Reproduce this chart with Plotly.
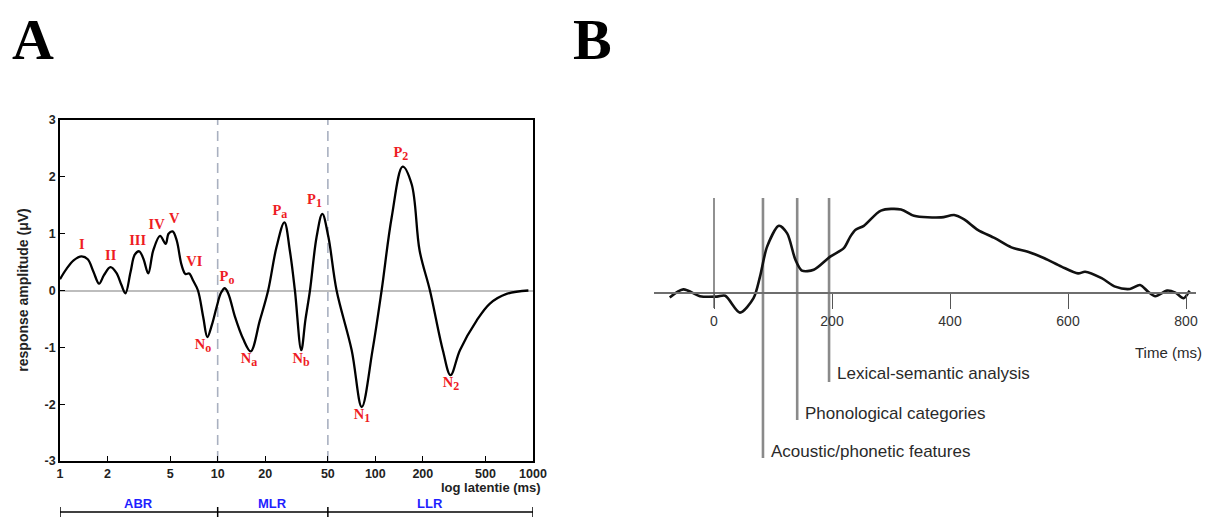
import numpy as np
import plotly.graph_objects as go

W, H = 1212, 517

# ---------------- Panel A data ----------------
lat_ms = [1.0, 1.1, 1.22, 1.37, 1.5, 1.63, 1.77, 1.9, 2.09, 2.28, 2.45, 2.6, 2.8, 2.98,
          3.18, 3.38, 3.63, 3.9, 4.31, 4.68, 4.88, 5.18, 5.5, 5.9, 6.25, 6.6, 7.0, 7.5,
          8.1, 8.6, 9.2, 9.85, 10.5, 11.1, 11.7, 12.9, 14.5, 16.2, 18.5, 20.9, 23.6,
          26.5, 28.7, 30.9, 33.9, 36.0, 38.5, 42.4, 46.1, 50.4, 56.8, 70.8, 82.0, 96.0,
          109.6, 127, 149, 170, 191, 222, 268, 300, 344, 439, 533, 680, 935]
amp_uv = [0.20, 0.38, 0.53, 0.60, 0.55, 0.33, 0.12, 0.27, 0.41, 0.31, 0.10, -0.05, 0.32, 0.63,
          0.69, 0.56, 0.30, 0.70, 0.96, 0.82, 1.00, 1.04, 0.88, 0.45, 0.29, 0.30, 0.17, 0.0,
          -0.47, -0.82, -0.60, -0.29, -0.04, 0.04, -0.06, -0.47, -0.85, -1.07, -0.53, 0.0, 0.76,
          1.20, 0.70, 0.0, -1.05, -0.52, 0.0, 0.94, 1.35, 0.94, 0.0, -1.05, -2.05, -1.05,
          0.0, 1.29, 2.18, 1.87, 0.70, 0.0, -1.05, -1.49, -1.05, -0.53, -0.23, -0.06, 0.0]

peak_mains = ["I", "II", "III", "IV", "V", "VI", "P", "P", "P", "P", "N", "N", "N", "N", "N"]
peak_subs = ["", "", "", "", "", "", "o", "a", "1", "2", "o", "a", "b", "1", "2"]
peak_label_ms = [1.373, 2.097, 3.11, 4.10, 5.31, 7.11,
                 11.46, 24.8, 41.1, 145.3,
                 8.07, 15.8, 33.8, 82.2, 301.5]
peak_label_amp = [0.79, 0.60, 0.865, 1.14, 1.25, 0.50,
                  0.23, 1.39, 1.59, 2.42,
                  -0.965, -1.216, -1.21, -2.19, -1.63]

a_xticks = [1, 2, 5, 10, 20, 50, 100, 200, 500, 1000]
a_yticks = [-3, -2, -1, 0, 1, 2, 3]
region_names = ["ABR", "MLR", "LLR"]
region_bounds = [1, 10, 50, 1000]

# ---------------- Panel B data ----------------
time_ms = [-75, -52, -24, 5, 19, 44, 67, 78, 90, 110, 124, 138, 149, 169, 197, 220, 231,
           240, 254, 283, 317, 339, 385, 407, 424, 447, 476, 504, 532, 560, 589, 617,
           629, 657, 680, 705, 722, 736, 748, 768, 782, 796, 806]
erp_amp = [-0.11, 0.09, -0.08, -0.09, -0.07, -0.49, -0.13, 0.41, 1.16, 1.68, 1.49, 0.83,
           0.56, 0.58, 0.91, 1.12, 1.41, 1.58, 1.68, 2.06, 2.09, 1.93, 1.89, 1.95, 1.84,
           1.58, 1.37, 1.14, 1.03, 0.87, 0.66, 0.49, 0.53, 0.37, 0.16, 0.10, 0.20, 0.03,
           -0.08, 0.06, 0.01, -0.13, 0.06]
b_xticks = [0, 200, 400, 600, 800]
stage_names = ["Acoustic/phonetic features", "Phonological categories", "Lexical-semantic analysis"]
stage_ms = [83, 141, 195]

# ---------------- Figure ----------------
fig = go.Figure()

fig.add_trace(go.Scatter(x=lat_ms, y=amp_uv, mode="lines", xaxis="x", yaxis="y",
                         line=dict(color="black", width=2.3, shape="spline", smoothing=1.0),
                         hoverinfo="skip", showlegend=False))

peak_text = [m + ("<sub><span style='font-size:12px'>" + s + "</span></sub>" if s else "")
             for m, s in zip(peak_mains, peak_subs)]
fig.add_trace(go.Scatter(x=peak_label_ms, y=peak_label_amp, mode="text", text=peak_text,
                         textposition="middle center", xaxis="x", yaxis="y", cliponaxis=False,
                         textfont=dict(family="Liberation Serif", size=14.5, color="#ee1c24",
                                       weight="bold"),
                         hoverinfo="skip", showlegend=False))

fig.add_trace(go.Scatter(x=time_ms, y=erp_amp, mode="lines", xaxis="x2", yaxis="y2",
                         line=dict(color="#111111", width=2.6, shape="spline", smoothing=0.8),
                         hoverinfo="skip", showlegend=False))

shapes = []
for b in region_bounds[1:-1]:
    shapes.append(dict(type="line", xref="x", yref="y", x0=b, x1=b, y0=-3, y1=3,
                       line=dict(color="#a9b0c0", width=1.6, dash="10px,6px"), layer="below"))
shapes.append(dict(type="line", xref="x", yref="paper", x0=region_bounds[0], x1=region_bounds[-1],
                   y0=1 - 512 / H, y1=1 - 512 / H, line=dict(color="black", width=1.5)))
for b in region_bounds:
    shapes.append(dict(type="line", xref="x", yref="paper", x0=b, x1=b,
                       y0=1 - 507 / H, y1=0, line=dict(color="black", width=1.5)))

shapes.append(dict(type="line", xref="x2", yref="y2", x0=0, x1=0, y0=2.375, y1=-0.375,
                   line=dict(color="#555555", width=1.3)))
stage_bottom = [-4.125, -3.175, -2.225]
for s, yb in zip(stage_ms, stage_bottom):
    shapes.append(dict(type="line", xref="x2", yref="y2", x0=s, x1=s, y0=2.375, y1=yb,
                       line=dict(color="#8a8a8a", width=2.6), layer="below"))

annotations = []
for letter, xp in (("A", 33), ("B", 592)):
    annotations.append(dict(text="<b>" + letter + "</b>", x=xp / W, y=1 - 40 / H,
                            xref="paper", yref="paper", xanchor="center", yanchor="middle",
                            showarrow=False,
                            font=dict(family="Liberation Serif", size=58, color="black")))
annotations.append(dict(text="<b>response amplitude (\u03bcV)</b>", x=-0.08, y=0.5,
                        xref="x domain", yref="y domain", textangle=-90, showarrow=False,
                        xanchor="center", yanchor="middle",
                        font=dict(family="Liberation Sans", size=14, color="#222222")))
annotations.append(dict(text="<b>log latentie (ms)</b>", x=1.022, y=1 - 487 / H, xref="x domain",
                        yref="paper", xanchor="right", yanchor="middle", showarrow=False,
                        font=dict(family="Liberation Sans", size=13, color="#222222")))
for i, name in enumerate(region_names):
    mid = (np.log10(region_bounds[i]) + np.log10(region_bounds[i + 1])) / 2
    annotations.append(dict(text="<b>" + name + "</b>", x=mid, y=1 - 503 / H, xref="x",
                            yref="paper", xanchor="center", yanchor="middle", showarrow=False,
                            font=dict(family="Liberation Sans", size=13, color="#1f1fff")))

label_y = [-3.95, -3.02, -2.0]
for name, s, yl in zip(stage_names, stage_ms, label_y):
    annotations.append(dict(text=name, x=s, y=yl, xref="x2", yref="y2", xanchor="left",
                            yanchor="middle", xshift=6, showarrow=False,
                            font=dict(family="Liberation Sans", size=17, color="#2a2a2a")))
annotations.append(dict(text="Time (ms)", x=1.015, y=1 - 352 / H, xref="x2 domain", yref="paper",
                        xanchor="right", yanchor="middle", showarrow=False,
                        font=dict(family="Liberation Sans", size=15, color="#2a2a2a")))

px_per_ms = 0.59
x2_left, x2_right, zero_px = 654, 1196, 293
y2_top, y2_bot, px_per_unit = 190, 470, 40.0

fig.update_layout(
    width=W, height=H, autosize=False,
    margin=dict(l=0, r=0, t=0, b=0, pad=0, autoexpand=False),
    paper_bgcolor="white", plot_bgcolor="white",
    showlegend=False,
    shapes=shapes, annotations=annotations,
    xaxis=dict(type="log", range=[0, 3], domain=[60 / W, 533 / W], anchor="y", automargin=False,
               showline=True, mirror=True, linecolor="black", linewidth=1.6,
               ticks="inside", ticklen=5, tickwidth=1.3, tickcolor="black",
               tickvals=a_xticks, ticktext=[str(v) for v in a_xticks],
               showgrid=False, zeroline=False,
               tickfont=dict(family="Liberation Sans", size=12.5, color="#222222", weight="bold")),
    yaxis=dict(range=[-3, 3], domain=[1 - 461 / H, 1 - 120 / H], anchor="x", automargin=False,
               showline=True, mirror=True, linecolor="black", linewidth=1.6,
               ticks="inside", ticklen=5, tickwidth=1.3, tickcolor="black",
               tickvals=a_yticks, ticktext=[str(v) for v in a_yticks], showgrid=False,
               zeroline=True, zerolinecolor="#bdbdbd", zerolinewidth=1.5,
               tickfont=dict(family="Liberation Sans", size=12.5, color="#222222", weight="bold")),
    xaxis2=dict(range=[(x2_left - 714) / px_per_ms, (x2_right - 714) / px_per_ms],
                domain=[x2_left / W, x2_right / W], anchor="free", position=1 - zero_px / H,
                automargin=False,
                showline=True, linecolor="#6e6e6e", linewidth=1.6,
                ticks="outside", ticklen=15, tickwidth=1.3, tickcolor="#555555",
                tickvals=b_xticks, showgrid=False, zeroline=False,
                tickfont=dict(family="Liberation Sans", size=14, color="#333333")),
    yaxis2=dict(range=[(zero_px - y2_bot) / px_per_unit, (zero_px - y2_top) / px_per_unit],
                domain=[1 - y2_bot / H, 1 - y2_top / H], anchor="x2", automargin=False,
                visible=False, showgrid=False, zeroline=False),
)

fig.write_html("out.html")
